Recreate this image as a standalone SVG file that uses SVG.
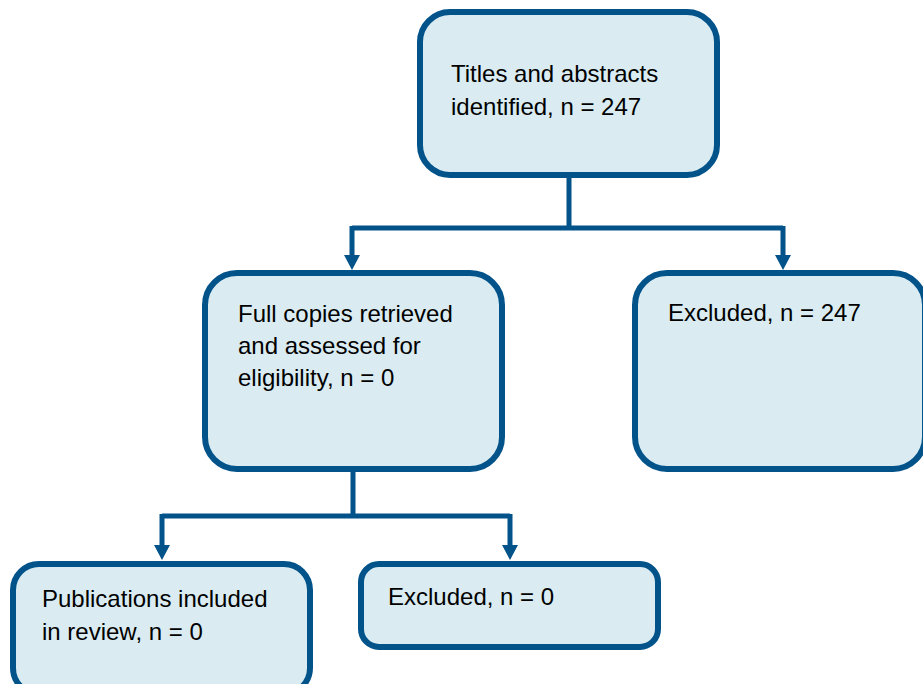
<svg xmlns="http://www.w3.org/2000/svg" width="923" height="684" viewBox="0 0 923 684">
<defs>
<style>
.box{fill:#DAECF2;stroke:#02538A;stroke-width:6}
.t{font-family:"Liberation Sans",Arial,sans-serif;font-size:24px;fill:#000}
.ln{fill:none;stroke:#02538A;stroke-width:5}
.ah{fill:#02538A}
</style>
</defs>
<rect width="923" height="684" fill="#fff"/>
<g id="connectors">
<path class="ln" d="M569 176V228M352 228H783M352 226V258M783 226V258"/>
<path class="ln" d="M353 470V516M162 516H510M162 514V548M510 514V548"/>
<polygon class="ah" points="344,255 360,255 352,270"/>
<polygon class="ah" points="775,255 791,255 783,270"/>
<polygon class="ah" points="154,545 170,545 162,560"/>
<polygon class="ah" points="502,545 518,545 510,560"/>
</g>
<g id="n1"><rect class="box" x="420" y="12" width="297" height="163" rx="30"/>
<text class="t" x="451" y="82">Titles and abstracts</text>
<text class="t" x="451" y="115">identified, n = 247</text></g>
<g id="n2"><rect class="box" x="205" y="273" width="297" height="196" rx="32"/>
<text class="t" x="238" y="322">Full copies retrieved</text>
<text class="t" x="238" y="354">and assessed for</text>
<text class="t" x="238" y="386">eligibility, n = 0</text></g>
<g id="n3"><rect class="box" x="635" y="273" width="290" height="196" rx="32"/>
<text class="t" x="668" y="321">Excluded, n = 247</text></g>
<g id="n4"><rect class="box" x="13" y="564" width="297" height="130" rx="26"/>
<text class="t" x="42" y="607">Publications included</text>
<text class="t" x="42" y="640">in review, n = 0</text></g>
<g id="n5"><rect class="box" x="361" y="564" width="297" height="83" rx="18"/>
<text class="t" x="388" y="605">Excluded, n = 0</text></g>
</svg>
